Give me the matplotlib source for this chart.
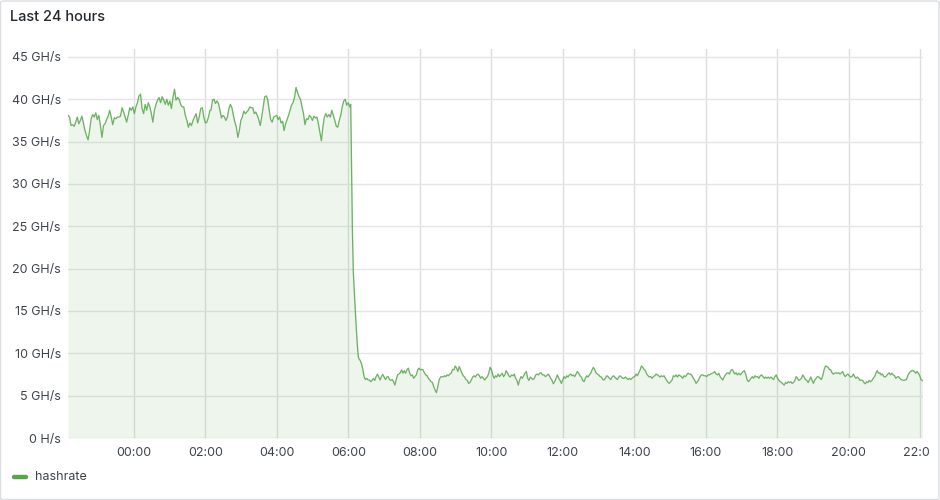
import numpy as np
import matplotlib
matplotlib.use("Agg")
import matplotlib.pyplot as plt
from matplotlib.patches import FancyBboxPatch
from matplotlib.lines import Line2D
from matplotlib.transforms import Bbox, TransformedBbox

plt.rcParams['font.family'] = ['Inter', 'DejaVu Sans']

# ---- data (hours relative to 00:00; GH/s) ----
seg_night_span = (-1.847, 2.127)
hashrate_night_a = [38.1, 37.9, 36.9, 37.0, 36.8, 37.3, 37.9, 37.1, 37.5, 38.0, 37.2, 36.3, 35.7, 35.2, 36.3,
                    37.7, 38.2, 37.9, 38.4, 37.6, 38.1, 36.9, 35.5, 36.9, 37.1, 37.6, 38.0, 38.7, 37.9, 37.0,
                    37.8, 37.7, 37.9, 37.9, 38.0, 39.0, 38.5, 37.9, 37.3, 38.1, 39.0, 38.7, 39.1, 38.3, 39.1,
                    39.6, 40.4, 40.6, 38.9, 38.3, 39.4, 38.7, 39.6, 39.1, 38.3, 37.3, 38.7, 39.4, 39.9, 40.2,
                    39.6, 40.3, 39.9, 39.4, 40.0, 39.3, 39.8, 38.9, 40.2, 41.2, 39.9, 40.2, 40.0, 39.4, 39.1,
                    39.1, 38.1, 37.5, 36.7, 37.2, 36.9, 37.5, 37.9, 38.3, 37.2, 37.9, 38.9, 39.0, 37.9, 37.2,
                    37.3, 37.9, 38.7]

seg_night_b_span = (2.155, 6.037)
hashrate_night_b = [38.7, 39.9, 40.0, 39.5, 39.8, 39.5, 38.7, 37.8, 38.1, 37.9, 37.5, 37.9, 38.9, 39.4, 39.0,
                    38.1, 37.3, 36.7, 35.5, 36.3, 37.5, 37.9, 38.6, 38.3, 38.5, 38.7, 39.1, 39.0, 39.0, 38.3,
                    38.5, 38.1, 37.6, 36.9, 37.9, 39.1, 40.3, 40.4, 40.0, 38.7, 37.6, 37.3, 37.9, 38.0, 38.1,
                    37.6, 37.9, 37.2, 37.4, 36.3, 37.1, 37.6, 38.1, 38.7, 39.3, 39.6, 40.2, 41.4, 40.8, 40.3,
                    40.0, 39.1, 38.3, 37.0, 37.7, 37.6, 38.1, 37.9, 37.5, 38.0, 37.8, 37.9, 37.1, 36.1, 35.1,
                    36.7, 37.9, 38.3, 37.9, 38.2, 37.9, 38.7, 38.1, 37.5, 36.8, 36.7, 37.5, 38.1, 39.1, 39.8,
                    40.0, 39.3, 39.6, 39.1]

drop_hours = [6.065, 6.083, 6.110, 6.138, 6.175, 6.213, 6.250, 6.277, 6.300]
hashrate_drop = [39.4, 34.0, 25.0, 19.5, 16.5, 13.5, 11.0, 9.6, 9.3]

seg_day_a_span = (6.325, 11.467)
hashrate_day_a = [9.2, 8.8, 8.2, 7.25, 6.9, 7.05, 6.85, 6.85, 6.65, 6.8, 7.05, 6.8, 7.25, 7.55, 7.2, 6.85, 7.25,
                  7.5, 7.2, 6.9, 7.2, 7.25, 6.9, 6.8, 6.9, 6.65, 6.25, 6.9, 7.45, 7.55, 7.7, 8.05, 7.65, 7.95,
                  7.65, 8.05, 8.25, 7.7, 7.35, 7.45, 7.05, 7.25, 7.45, 8.05, 8.25, 8.05, 8.1, 8.05, 7.7, 7.45,
                  7.35, 7.05, 6.85, 6.65, 6.55, 6.05, 5.65, 5.35, 6.05, 6.85, 7.2, 7.25, 7.2, 7.35, 7.25, 7.45,
                  7.35, 7.55, 7.65, 8.1, 8.05, 8.5, 8.25, 7.85, 8.45, 8.05, 7.65, 7.35, 7.2, 6.9, 6.8, 6.45,
                  6.55, 6.85, 7.2, 7.35, 7.2, 7.45, 7.55, 7.35, 7.05, 7.25, 7.05, 6.85, 7.05, 7.25, 7.65, 8.35,
                  8.05, 7.45, 7.05, 7.35, 7.2, 7.55, 7.25, 7.45, 7.65, 7.25, 7.45, 7.95, 7.65, 7.35, 7.2, 7.45,
                  7.35, 7.55, 7.05, 6.8, 6.25, 6.85, 7.25, 7.05, 7.35, 7.65, 7.85, 7.05, 6.8, 7.2, 7.05, 6.9,
                  7.05, 7.45, 7.55, 7.45, 7.65, 7.7, 7.45, 7.45]

seg_day_b_span = (11.475, 16.924)
hashrate_day_b = [7.45, 7.25, 7.35, 7.55, 7.35, 7.05, 6.8, 6.4, 6.65, 7.05, 7.45, 7.05, 6.8, 6.45, 6.85, 7.25,
                  7.05, 7.35, 7.2, 7.45, 7.55, 7.35, 7.45, 7.25, 7.55, 7.85, 7.65, 7.35, 7.2, 6.8, 6.65, 7.05,
                  7.35, 7.2, 7.45, 7.65, 8.05, 8.35, 8.05, 7.7, 7.55, 7.45, 7.25, 7.2, 6.9, 6.85, 7.05, 7.35,
                  7.25, 7.05, 6.9, 7.2, 7.35, 7.2, 7.05, 6.9, 7.2, 7.35, 7.2, 7.05, 7.05, 7.2, 7.05, 6.9, 7.05,
                  6.9, 7.05, 7.2, 7.25, 7.55, 7.35, 7.7, 8.05, 8.5, 8.35, 8.1, 7.95, 7.55, 7.35, 7.2, 7.25,
                  7.05, 7.25, 7.35, 7.55, 7.45, 7.35, 7.2, 7.35, 7.25, 7.35, 7.05, 6.8, 6.55, 6.45, 6.65, 6.85,
                  7.35, 7.25, 7.45, 7.2, 7.45, 7.35, 7.25, 7.05, 7.35, 7.25, 7.45, 7.65, 7.55, 7.55, 7.35,
                  7.05, 6.8, 6.45, 6.65, 6.9, 7.25, 7.45, 7.45, 7.35, 7.35, 7.25, 7.45, 7.45, 7.55, 7.65, 7.7,
                  7.85, 7.55, 7.45, 7.65, 7.25, 7.05, 6.85, 7.2, 7.45, 7.65, 7.7, 7.55, 7.95, 8.1, 7.85, 7.55,
                  7.7, 7.45, 7.65]

seg_day_c_span = (16.969, 22.063)
hashrate_day_c = [7.45, 7.65, 7.85, 7.95, 7.55, 6.9, 6.65, 6.8, 7.05, 7.25, 7.05, 7.35, 7.2, 7.25, 7.05, 7.35,
                  7.45, 7.25, 7.05, 7.2, 7.05, 7.2, 7.05, 7.2, 7.05, 6.9, 7.25, 7.45, 7.05, 6.8, 6.65, 6.55,
                  6.4, 6.25, 6.55, 6.45, 6.65, 6.55, 6.65, 6.45, 6.55, 6.8, 7.25, 7.05, 6.8, 6.9, 7.05, 7.45,
                  7.2, 6.9, 6.8, 6.55, 6.85, 7.2, 6.8, 6.45, 6.85, 7.05, 7.25, 7.2, 7.05, 6.9, 7.35, 8.05, 8.5,
                  8.45, 8.35, 8.1, 8.05, 7.7, 7.55, 7.65, 7.7, 7.65, 7.7, 7.55, 7.7, 7.85, 7.45, 7.25, 7.45,
                  7.55, 7.35, 7.2, 7.25, 7.55, 7.25, 7.05, 7.2, 7.05, 6.8, 6.85, 6.8, 6.55, 6.4, 6.65, 6.55,
                  6.8, 6.65, 6.8, 7.05, 7.25, 7.65, 7.95, 7.65, 7.7, 7.45, 7.55, 7.25, 7.2, 7.35, 7.55, 7.7,
                  7.45, 7.65, 7.45, 7.35, 7.05, 7.2, 7.25, 7.05, 6.9, 6.85, 6.8, 6.85, 6.9, 7.35, 7.65, 7.85,
                  7.95, 7.95, 7.85, 7.65, 7.85, 7.65, 7.35, 6.9, 6.8]

x_ticks = [0, 2, 4, 6, 8, 10, 12, 14, 16, 18, 20, 22]
x_tick_labels = ["00:00", "02:00", "04:00", "06:00", "08:00", "10:00", "12:00",
                 "14:00", "16:00", "18:00", "20:00", "22:00"]
y_ticks = [0, 5, 10, 15, 20, 25, 30, 35, 40, 45]
y_tick_labels = ["0 H/s", "5 GH/s", "10 GH/s", "15 GH/s", "20 GH/s", "25 GH/s",
                 "30 GH/s", "35 GH/s", "40 GH/s", "45 GH/s"]

# ---- assemble series ----
def seg(span, vals):
    return np.linspace(span[0], span[1], len(vals)), np.asarray(vals, float)

parts = [seg(seg_night_span, hashrate_night_a),
         seg(seg_night_b_span, hashrate_night_b),
         (np.asarray(drop_hours), np.asarray(hashrate_drop)),
         seg(seg_day_a_span, hashrate_day_a),
         seg(seg_day_b_span, hashrate_day_b),
         seg(seg_day_c_span, hashrate_day_c)]
t = np.concatenate([p[0] for p in parts])
v = np.concatenate([p[1] for p in parts])

# ---- figure ----
W, H = 940, 500
fig = plt.figure(figsize=(W / 100, H / 100), dpi=100)
fig.patch.set_facecolor("white")

left, right, top, bottom = 68, 923, 49.3, 438
ax = fig.add_axes([left / W, 1 - bottom / H, (right - left) / W, (bottom - top) / H])
ax.set_facecolor("none")

green = "#56A64B"
ax.fill_between(t, 0, v, color=green, alpha=0.10, linewidth=0, zorder=2)
ax.plot(t, v, color=green, linewidth=0.95, zorder=3, alpha=0.85)

ax.set_xlim(-1.847, 22.08)
ax.set_ylim(0, 45.9)
ax.set_xticks(x_ticks)
ax.set_xticklabels(x_tick_labels)
ax.set_yticks(y_ticks)
ax.set_yticklabels(y_tick_labels)
ax.grid(True, axis="x", color="#dcdde0", linewidth=1.0, zorder=1)
ax.grid(True, axis="y", color="#e4e5e7", linewidth=1.0, zorder=1)
ax.set_axisbelow(True)
for s in ax.spines.values():
    s.set_visible(False)
ax.tick_params(axis="both", length=0, labelsize=9, labelcolor="#3f444b")
ax.tick_params(axis="y", pad=5.2)
ax.tick_params(axis="x", pad=6.5)

# clip last x label like the panel edge does
clipbox = TransformedBbox(Bbox([[0, 0], [929 / W, 1]]), fig.transFigure)
lbl = ax.get_xticklabels()[-1]
lbl.set_clip_on(True)
lbl.set_clip_box(clipbox)

# panel border (outline only, drawn on top)
border = FancyBboxPatch((0.5 / W, 0.5 / H), (W - 1.5) / W, (H - 1.5) / H,
                        boxstyle="round,pad=0,rounding_size=0.003",
                        transform=fig.transFigure, facecolor="none",
                        edgecolor="#dcdde0", linewidth=1.0, zorder=10)
fig.add_artist(border)

# title
fig.text(9.5 / W, 1 - 17 / H, "Last 24 hours", ha="left", va="center",
         fontsize=10.5, fontweight="medium", color="#24292e")

# legend
fig.add_artist(Line2D([14 / W, 26 / W], [1 - 477 / H, 1 - 477 / H], transform=fig.transFigure,
                      color=green, linewidth=3.2, solid_capstyle="round"))
fig.text(35 / W, 1 - 477 / H, "hashrate", ha="left", va="center",
         fontsize=9, color="#3f444b")

fig.savefig("out.png", dpi=100, facecolor="white")
